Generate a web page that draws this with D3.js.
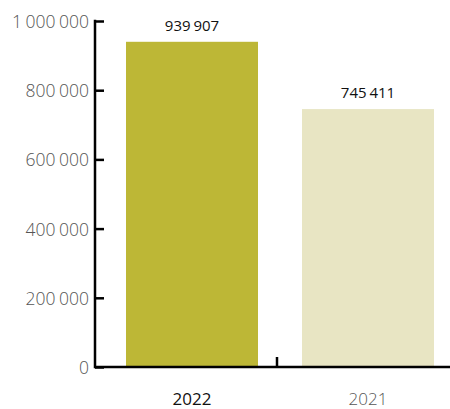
<!DOCTYPE html>
<html>
<head>
<meta charset="utf-8">
<script src="https://cdn.jsdelivr.net/npm/d3@7"></script>
<style>
  body { margin: 0; background: #fff; }
  svg { display: block; }
</style>
</head>
<body>
<script>
var years = ["2022", "2021"]
var values = [939907, 745411]
var colors = ["#bdb736", "#e8e5c3"]
var yTicks = [0, 200000, 400000, 600000, 800000, 1000000]

var width = 450, height = 409
var padding = {left: 95, right: 0, top: 21, bottom: 42}

var fmt = function(v) {
  return d3.format(",")(v).replace(/,/g, " ")
}

var svg = d3.select("body").append("svg")
  .attr("width", width).attr("height", height)

var xscale = d3.scaleBand()
  .domain(years)
  .range([104, 456])
  .paddingInner(0.25)
  .paddingOuter(0.125)

var yscale = d3.scaleLinear()
  .domain([0, 1000000])
  .range([height - padding.bottom, padding.top])

// bars
svg.selectAll("rect.bar")
  .data(years)
  .enter().append("rect")
  .attr("class", "bar")
  .attr("x", function(d) { return xscale(d) })
  .attr("width", xscale.bandwidth())
  .attr("y", function(d, i) { return yscale(values[i]) })
  .attr("height", function(d, i) { return yscale(0) - yscale(values[i]) })
  .style("fill", function(d, i) { return colors[i] })

// value labels
svg.selectAll("text.val")
  .data(years)
  .enter().append("text")
  .attr("class", "val")
  .attr("x", function(d) { return xscale(d) + xscale.bandwidth() / 2 })
  .attr("y", function(d, i) { return yscale(values[i]) - 11 })
  .attr("text-anchor", "middle")
  .style("font-family", "'Open Sans', sans-serif")
  .style("font-size", "15px")
  .style("word-spacing", "-1px")
  .style("fill", "#111")
  .text(function(d, i) { return fmt(values[i]) })

// y axis
var yaxis = d3.axisRight(yscale)
  .tickValues(yTicks)
  .tickSize(9)
  .tickFormat("")

var yg = svg.append("g").attr("class", "yaxis")
  .attr("transform", "translate(" + padding.left + ",0)")
  .call(yaxis)
yg.select(".domain").remove()
yg.selectAll("line").style("stroke", "#000").style("stroke-width", 2.5)
yg.append("line")
  .attr("x1", 0).attr("x2", 0)
  .attr("y1", yscale(1000000) - 1.2).attr("y2", yscale(0) + 1.2)
  .style("stroke", "#000").style("stroke-width", 2.5)

svg.selectAll("text.ytick")
  .data(yTicks)
  .enter().append("text")
  .attr("class", "ytick")
  .attr("x", padding.left - 6)
  .attr("y", function(d) { return yscale(d) + 7 })
  .attr("text-anchor", "end")
  .style("font-family", "'Open Sans', sans-serif")
  .style("font-weight", 300)
  .style("font-size", "17.5px")
  .style("word-spacing", "-1px")
  .style("fill", "#555")
  .text(function(d) { return fmt(d) })

// x axis
var y0 = yscale(0)
svg.append("line")
  .attr("x1", padding.left).attr("x2", width)
  .attr("y1", y0).attr("y2", y0)
  .style("stroke", "#000").style("stroke-width", 2.5)

var mid = xscale(years[1]) - xscale.step() * xscale.paddingInner() / 2 - 3
svg.append("line")
  .attr("x1", mid).attr("x2", mid)
  .attr("y1", y0).attr("y2", y0 - 10)
  .style("stroke", "#000").style("stroke-width", 2.5)

svg.selectAll("text.xlab")
  .data(years)
  .enter().append("text")
  .attr("class", "xlab")
  .attr("x", function(d) { return xscale(d) + xscale.bandwidth() / 2 })
  .attr("y", y0 + 38)
  .attr("text-anchor", "middle")
  .style("font-family", "'Open Sans', sans-serif")
  .style("font-size", "17px")
  .style("font-weight", function(d, i) { return i === 0 ? 400 : 300 })
  .style("fill", function(d, i) { return i === 0 ? "#111" : "#555" })
  .text(function(d) { return d })
</script>
</body>
</html>
